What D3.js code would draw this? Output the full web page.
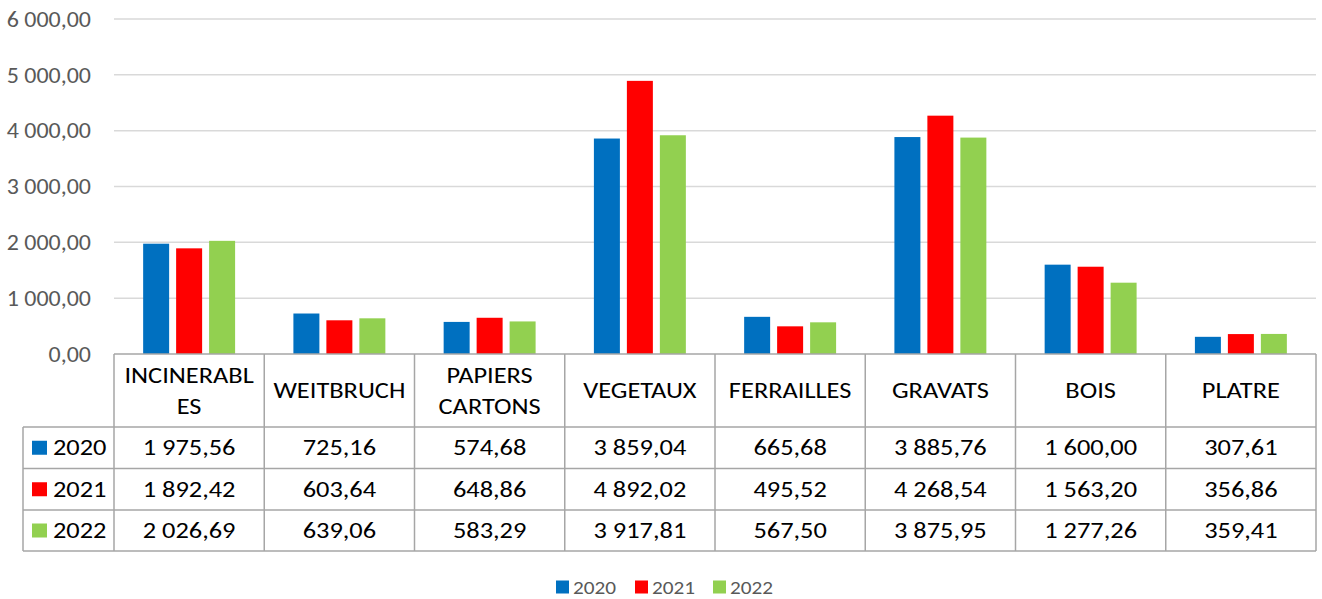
<!DOCTYPE html>
<html>
<head>
    <meta charset='utf-8' />
    <title>Déchets</title>
    <style>
        html, body { margin:0; padding:0; background:#fff; }
        body { font-family: Carlito, Calibri, Lato, sans-serif; }
        .grid line { stroke: #d9d9d9; stroke-width: 1.5; }
        .tbl line { stroke: #a6a6a6; stroke-width: 1.5; }
        .ylab { fill: #595959; font-size: 22px; }
        .cell { fill: #000; font-size: 22px; }
        .leg { fill: #595959; font-size: 19px; }
    </style>
</head>
<body>
<svg id="chart" width="1322" height="599"></svg>
<script src="https://d3js.org/d3.v7.min.js"></script>
<script>
  // categories and yearly values (tonnes)
  const categories = ['INCINERABLES', 'WEITBRUCH', 'PAPIERS CARTONS', 'VEGETAUX', 'FERRAILLES', 'GRAVATS', 'BOIS', 'PLATRE']
  const categoryLines = [['INCINERABL', 'ES'], ['WEITBRUCH'], ['PAPIERS', 'CARTONS'], ['VEGETAUX'], ['FERRAILLES'], ['GRAVATS'], ['BOIS'], ['PLATRE']]
  const years = ['2020', '2021', '2022']
  const values2020 = [1975.56, 725.16, 574.68, 3859.04, 665.68, 3885.76, 1600.00, 307.61]
  const values2021 = [1892.42, 603.64, 648.86, 4892.02, 495.52, 4268.54, 1563.20, 356.86]
  const values2022 = [2026.69, 639.06, 583.29, 3917.81, 567.50, 3875.95, 1277.26, 359.41]
  const yTicks = [0, 1000, 2000, 3000, 4000, 5000, 6000]
  const colors = ['#0070C0', '#FF0000', '#92D050']

  const series = [values2020, values2021, values2022]

  const fr = d3.formatLocale({ decimal: ',', thousands: ' ', grouping: [3], currency: ['', ' €'] })
  const fmt = fr.format(',.2f')

  // the original is a bit wide, stretch text horizontally around its anchor
  const stretch = (sel, s) => sel.attr('transform', function () {
    const ax = +this.getAttribute('x')
    return `translate(${ax},0) scale(${s},1) translate(${-ax},0)`
  })

  const svg = d3.select('#chart')

  const plotLeft = 114, plotRight = 1316, plotTop = 19, plotBottom = 354
  const x = d3.scaleBand().domain(categories).range([plotLeft, plotRight])
  const y = d3.scaleLinear().domain([0, 6000]).range([plotBottom, plotTop])

  const groupW = x.bandwidth() * 0.612
  const x1 = d3.scaleBand().domain(years).range([0, groupW]).paddingInner(0.212)

  // gridlines
  svg.append('g').attr('class', 'grid')
    .selectAll('line')
    .data(yTicks.filter(d => d > 0))
    .join('line')
    .attr('x1', plotLeft).attr('x2', plotRight)
    .attr('y1', d => y(d)).attr('y2', d => y(d))

  // y labels
  svg.append('g')
    .selectAll('text')
    .data(yTicks)
    .join('text')
    .attr('class', 'ylab')
    .attr('x', 91)
    .attr('y', d => y(d))
    .attr('dy', '0.35em')
    .attr('text-anchor', 'end')
    .text(d => fmt(d))
    .call(stretch, 1.09)

  // bars
  series.forEach((vals, si) => {
    svg.append('g')
      .selectAll('rect')
      .data(vals)
      .join('rect')
      .attr('x', (d, i) => x(categories[i]) + (x.bandwidth() - groupW) / 2 + x1(years[si]))
      .attr('y', d => y(d))
      .attr('width', x1.bandwidth())
      .attr('height', d => y(0) - y(d))
      .attr('fill', colors[si])
  })

  // data table
  const tableLeft = 23
  const rowY = [354, 427, 468.5, 510, 551]
  const tbl = svg.append('g').attr('class', 'tbl')

  tbl.append('line').attr('x1', plotLeft).attr('x2', plotRight).attr('y1', rowY[0]).attr('y2', rowY[0])
  rowY.slice(1).forEach(ry => {
    tbl.append('line').attr('x1', tableLeft).attr('x2', plotRight).attr('y1', ry).attr('y2', ry)
  })
  tbl.append('line').attr('x1', tableLeft).attr('x2', tableLeft).attr('y1', rowY[1]).attr('y2', rowY[4])
  categories.concat(['end']).forEach((c, i) => {
    const xx = plotLeft + i * x.bandwidth()
    tbl.append('line').attr('x1', xx).attr('x2', xx).attr('y1', rowY[0]).attr('y2', rowY[4])
  })

  // header labels
  categories.forEach((c, i) => {
    const lines = categoryLines[i]
    const cx = x(c) + x.bandwidth() / 2
    const cy = (rowY[0] + rowY[1]) / 2
    const lh = 31
    const t = svg.append('text').attr('class', 'cell').attr('text-anchor', 'middle').attr('x', cx)
    lines.forEach((l, li) => {
      t.append('tspan')
        .attr('x', cx)
        .attr('y', cy + (li - (lines.length - 1) / 2) * lh)
        .attr('dy', '0.35em')
        .text(l)
    })
    t.call(stretch, 1.2)
  })

  // value rows
  series.forEach((vals, si) => {
    const cy = (rowY[si + 1] + rowY[si + 2]) / 2
    svg.append('rect')
      .attr('x', 32).attr('y', cy - 7)
      .attr('width', 15).attr('height', 14)
      .attr('fill', colors[si])
    svg.append('text').attr('class', 'cell')
      .attr('x', 53).attr('y', cy).attr('dy', '0.35em')
      .text(years[si])
      .call(stretch, 1.2)
    svg.append('g')
      .selectAll('text')
      .data(vals)
      .join('text')
      .attr('class', 'cell')
      .attr('text-anchor', 'middle')
      .attr('x', (d, i) => x(categories[i]) + x.bandwidth() / 2)
      .attr('y', cy)
      .attr('dy', '0.35em')
      .text(d => fmt(d))
      .call(stretch, 1.2)
  })

  // bottom legend
  const legX = [556, 635, 713]
  const leg = svg.append('g')
  years.forEach((yr, i) => {
    leg.append('rect').attr('x', legX[i]).attr('y', 580.5).attr('width', 13).attr('height', 13).attr('fill', colors[i])
    leg.append('text').attr('class', 'leg').attr('x', legX[i] + 17).attr('y', 587).attr('dy', '0.35em').text(yr)
      .call(stretch, 1.12)
  })
</script>
</body>
</html>
